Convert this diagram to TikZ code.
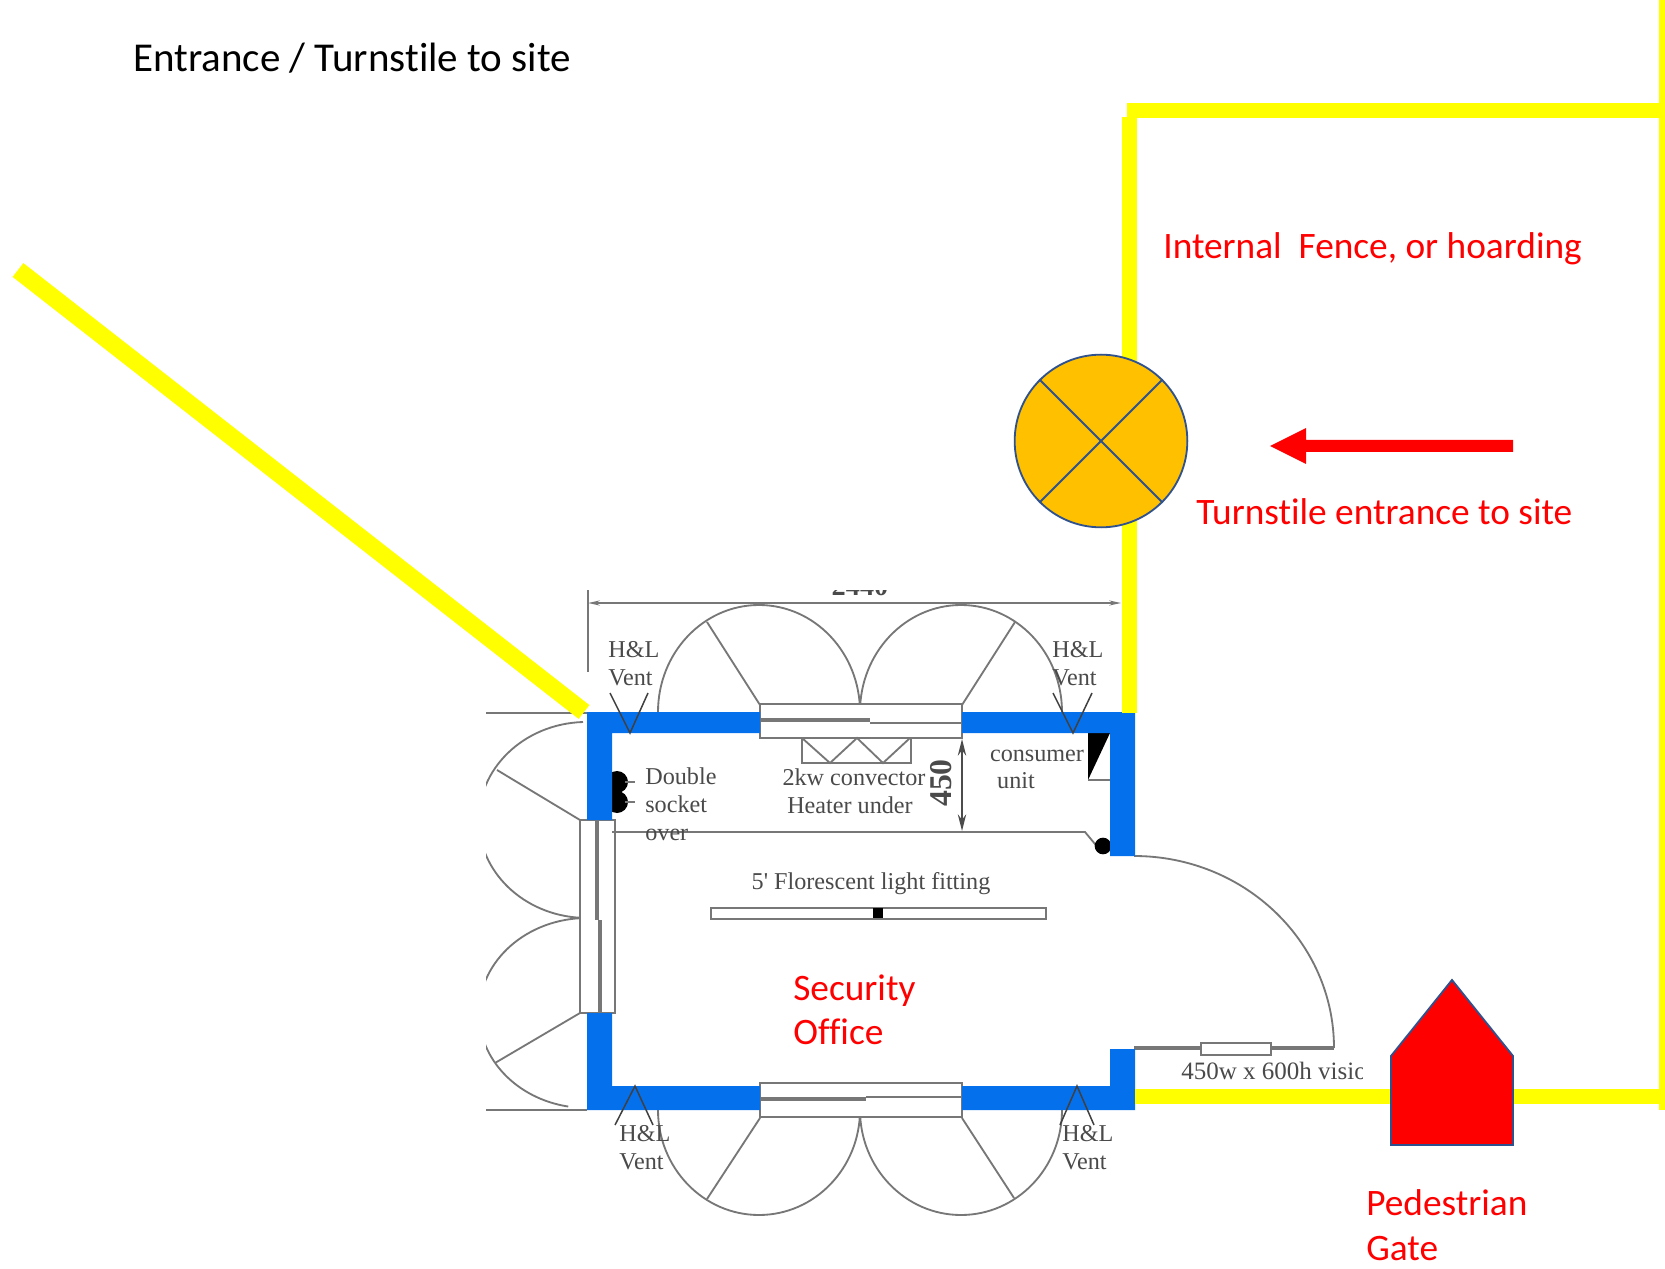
\documentclass[tikz,border=0pt]{standalone}
\usepackage{fontspec}
\setmainfont[RawFeature={-liga}]{Carlito}
\newfontfamily\planfont{Liberation Serif}
\usetikzlibrary{arrows.meta}
\definecolor{fenceyellow}{HTML}{FFFF00}
\definecolor{wallblue}{HTML}{0570EC}
\definecolor{outlineblue}{HTML}{2F528F}
\definecolor{turnorange}{HTML}{FFC000}
\definecolor{planline}{HTML}{777777}
\definecolor{plantext}{HTML}{4A4A4A}
\tikzset{
  x=0.6pt,y=-0.6pt,
  fence/.style={draw=fenceyellow,line width=9pt,line cap=butt},
  wall/.style={fill=wallblue,draw=none},
  plan/.style={draw=planline,line width=1.1pt},
  planthick/.style={draw=planline,line width=2pt},
  vent/.style={draw=black!75,line width=0.9pt},
  plantxt/.style={font=\planfont\fontsize{14.5}{15}\selectfont,text=plantext,inner sep=0pt},
  redtxt/.style={font=\fontsize{22.4}{24}\selectfont,text=red,inner sep=0pt,anchor=base west},
  shapeline/.style={draw=outlineblue,line width=1.1pt},
}
\begin{document}
\begin{tikzpicture}
\useasboundingbox (0,0) rectangle (1665,1269);
\fill[white] (0,0) rectangle (1665,1269);
% --- scanned plan, cropped
\begin{scope}
\clip (486,590) rectangle (1362,1240);
\node[plantxt,font=\planfont\bfseries\fontsize{17}{18}\selectfont,anchor=base] (width) at (860,595) {2440};
\draw[plan] (588,590) -- (588,672);
\draw[plan,{Stealth[length=7pt,width=3pt]}-{Stealth[length=7pt,width=3pt]}] (588,603) -- (1121,603);
% top doors
\draw[plan] (658,712) arc[start angle=180,end angle=0,x radius=60.6pt,y radius=64.2pt];
\draw[plan] (860,712) arc[start angle=180,end angle=0,x radius=60.6pt,y radius=64.2pt];
\draw[plan] (760,705) -- (707,622);
\draw[plan] (962,705) -- (1015,622);
% bottom doors
\draw[plan] (658,1110) arc[start angle=180,end angle=360,x radius=60.6pt,y radius=63pt];
\draw[plan] (860,1110) arc[start angle=180,end angle=360,x radius=60.6pt,y radius=63pt];
\draw[plan] (760,1118) -- (707,1199);
\draw[plan] (962,1118) -- (1014,1198);
% left doors
\draw[plan] (486,713) -- (587,713);
\draw[plan] (486,1110) -- (587,1110);
\draw[plan] (583,722) arc[start angle=92,end angle=270,x radius=64.8pt,y radius=58.8pt] -- (580,918);
\draw[plan] (580,918) -- (587,918) arc[start angle=90,end angle=260,x radius=64.8pt,y radius=57pt];
\draw[plan] (580,820) -- (497,770);
\draw[plan] (580,1013) -- (495,1063);
% windows
\draw[plan,fill=white] (760,704) rectangle (962,738);
\draw[planthick] (760,720) -- (870,720);
\draw[plan] (870,723) -- (962,723);
\draw[plan,fill=white] (760,1083) rectangle (962,1117);
\draw[planthick] (760,1099) -- (866,1099);
\draw[plan] (866,1097) -- (962,1097);
\draw[plan,fill=white] (580,820) rectangle (615,1013);
\draw[planthick] (597,820) -- (597,920);
\draw[planthick] (600,920) -- (600,1013);
% fittings
\draw[plan] (612,832) -- (1085,832) -- (1100,850);
\draw[plan] (802,738) -- (802,763) -- (911,763) -- (911,738);
\draw[plan] (802,738) -- (830,763) -- (857,738) -- (883,763) -- (910,738);
\draw[plan,-{Stealth[length=10pt,width=5pt]},black!70] (962,785) -- (962,739);
\draw[plan,-{Stealth[length=10pt,width=5pt]},black!70] (962,785) -- (962,831);
\draw[plan,fill=white] (711,908) rectangle (1046,919);
\fill[black] (873,908) rectangle (883,918);
\draw[plan] (1134,856) arc[start angle=90,end angle=0,x radius=120pt,y radius=115.2pt];
\draw[planthick] (1134,1048) -- (1334,1048);
\draw[plan,fill=white] (1201,1043) rectangle (1271,1055);
% plan labels
\node[plantxt,anchor=base west] (dbl) at (645,784) {Double};
\node[plantxt,anchor=base west] (sck) at (645,812) {socket};
\node[plantxt,anchor=base west] (ovr) at (645,840) {over};
\node[plantxt,anchor=base] (conv) at (854,785) {2kw convector};
\node[plantxt,anchor=base] (heat) at (850,813) {Heater under};
\node[plantxt,font=\planfont\bfseries\fontsize{19}{20}\selectfont,rotate=90] (dim) at (941,783) {450};
\node[plantxt,anchor=base] (cons) at (1037,761) {consumer};
\node[plantxt,anchor=base] (unit) at (1016,788) {unit};
\node[plantxt,anchor=base] (lamp) at (871,889) {5' Florescent light fitting};
\node[plantxt,font=\planfont\fontsize{15}{16}\selectfont,anchor=base west] (vis) at (1181,1079) {450w x 600h vision};
\node[plantxt,anchor=base west] (hl1) at (608,657) {H\&L};
\node[plantxt,anchor=base west] (vt1) at (608,685) {Vent};
\node[plantxt,anchor=base west] (hl2) at (1052,657) {H\&L};
\node[plantxt,anchor=base west] (vt2) at (1052,685) {Vent};
\node[plantxt,anchor=base west] (hl3) at (619,1141) {H\&L};
\node[plantxt,anchor=base west] (vt3) at (619,1169) {Vent};
\node[plantxt,anchor=base west] (hl4) at (1062,1141) {H\&L};
\node[plantxt,anchor=base west] (vt4) at (1062,1169) {Vent};
% black fittings
\fill[black] (617,782) circle[radius=6.6pt];
\fill[black] (617,802) circle[radius=6.6pt];
\draw[plan] (625,782) -- (635,782);
\draw[plan] (625,802) -- (635,802);
\fill[black] (1088,733) -- (1110,733) -- (1088,780) -- cycle;
\draw[plan] (1088,780) -- (1110,780);
\fill[black] (1103,846) circle[radius=5pt];
\end{scope}
% --- walls
\fill[wall] (587,820) -- (587,712) -- (760,712) -- (760,733) -- (612,733) -- (612,820) -- cycle;
\fill[wall] (962,712) -- (1135,712) -- (1135,856) -- (1110,856) -- (1110,733) -- (962,733) -- cycle;
\fill[wall] (587,1013) -- (612,1013) -- (612,1086) -- (760,1086) -- (760,1110) -- (587,1110) -- cycle;
\fill[wall] (962,1086) -- (1110,1086) -- (1110,1049) -- (1135,1049) -- (1135,1110) -- (962,1110) -- cycle;
% --- vents
\draw[vent] (610,693) -- (630,733) -- (648,693);
\draw[vent] (1053,693) -- (1073,733) -- (1092,693);
\draw[vent] (615,1125) -- (635,1086) -- (653,1125);
\draw[vent] (1060,1125) -- (1077,1086) -- (1094,1125);
% --- fence
\coordinate (diagA) at (18,270);
\coordinate (diagB) at (584,712);
\draw[fence,line width=10.5pt] (diagA) -- (diagB);
\coordinate (fa) at (1129,713);
\coordinate (fb) at (1129,117);
\coordinate (fc) at (1665,111);
\draw[fence] (fa) -- (fb);
\draw[fence] (1127,111) -- (fc);
\draw[fence,line width=4pt] (1662,0) -- (1662,1110);
\draw[fence] (1135,1096) -- (1665,1096);
% --- turnstile
\node[circle,shapeline,fill=turnorange,minimum size=103.6pt,inner sep=0pt] (turn) at (1101,441) {};
\draw[shapeline] (turn.north west) -- (turn.south east);
\draw[shapeline] (turn.north east) -- (turn.south west);
% --- gate
\draw[shapeline,fill=red] (1391,1056) -- (1452,980) -- (1513,1056) -- (1513,1145) -- (1391,1145) -- cycle;
% --- arrow
\fill[red] (1513,440) -- (1306,440) -- (1306,428) -- (1270,446) -- (1306,464) -- (1306,452) -- (1513,452) -- cycle;
% --- labels
\node[redtxt,font=\fontsize{24.6}{26}\selectfont,text=black] (title) at (133,72) {Entrance / Turnstile to site};
\node[redtxt] (fencelbl) at (1163,259) {Internal\ \ Fence, or hoarding};
\node[redtxt] (turnlbl) at (1196,525) {Turnstile entrance to site};
\node[redtxt] (sec1) at (793,1000) {Security};
\node[redtxt] (sec2) at (793,1044) {Office};
\node[redtxt] (ped1) at (1366,1215) {Pedestrian};
\node[redtxt] (ped2) at (1366,1260) {Gate};
\end{tikzpicture}
\end{document}
